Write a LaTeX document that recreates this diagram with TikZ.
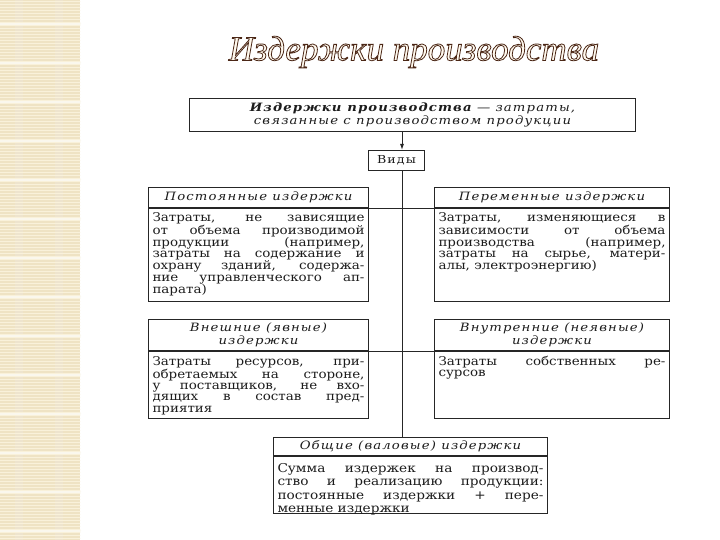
\documentclass[tikz,border=0pt]{standalone}
\usepackage{fontspec}
\setmainfont{DejaVu Serif}
\newfontfamily\bodyfont[FakeStretch=1.12]{DejaVu Serif}
\newfontfamily\headfont[FakeStretch=1.15,LetterSpace=10]{DejaVu Serif}
\newfontfamily\titlefont{Liberation Serif}
\usetikzlibrary{arrows.meta}
\definecolor{ink}{HTML}{1C1C1C}
\definecolor{frame}{HTML}{262626}
\definecolor{parch}{HTML}{EFE3C4}
\definecolor{parchline}{HTML}{F9F1DA}
\definecolor{parchdark}{HTML}{E2D3AE}
\newcommand{\outlinetext}[1]{%
  \special{pdf:literal direct 2 Tr 0.8 w 0.294 0.153 0.086 RG 1 0.976 0.933 rg}#1%
  \special{pdf:literal direct 0 Tr 0 g 0 G}}
\hyphenpenalty=10000
\tolerance=10000
\begin{document}
\begin{tikzpicture}[x=1pt,y=-1pt,line cap=round,
  framed/.style={draw=frame,line width=1pt,inner sep=0pt,text=ink},
  headrow/.style={framed,anchor=north west,align=center,
    font=\headfont\itshape\fontsize{11.5}{12.5}\selectfont},
  bodyrow/.style={framed,anchor=north west,align=justify,inner xsep=4pt,inner ysep=2pt,
    font=\bodyfont\fontsize{12}{11.8}\selectfont},
  titletext/.style={font=\titlefont\itshape\fontsize{35}{38}\selectfont}]
  \useasboundingbox (0,0) rectangle (720,540);
  \fill[white] (0,0) rectangle (720,540);
  \fill[parch] (0,0) rectangle (80,540);
  \fill[parchdark!60] (15,0) rectangle (23,540);
  \fill[parchdark!60] (55,0) rectangle (63,540);
  \foreach \y in {1.5,4.5,...,540}
     \draw[parchline,line width=0.6pt] (0,\y) -- (80,\y);
  \foreach \y in {24,63,...,540}
     \draw[white!70!parch,line width=2pt] (0,\y) -- (80,\y);

  \node[titletext] (title) at (414,52) {\outlinetext{Издержки производства}};

  \node[framed,anchor=north west,minimum width=446pt,minimum height=33pt,align=center,
    font=\headfont\itshape\fontsize{11.5}{12.5}\selectfont] (def) at (189,98)
    {{\bfseries Издержки производства} — затраты,\\связанные с производством продукции};
  \node[framed,anchor=north west,minimum width=56pt,minimum height=20pt,
    font=\headfont\fontsize{11}{12}\selectfont] (vidy) at (368,150) {Виды};
  \coordinate (spine) at (402,0);

  \node[headrow,minimum width=220pt,minimum height=20pt] (fixh) at (148,187) {Постоянные издержки};
  \node[bodyrow,text width=212pt,text height=11pt,text depth=78pt] (fixb) at (fixh.south west)
    {Затраты, не зависящие\linebreak от объема производимой\linebreak продукции (например,\linebreak
     затраты на содержание и\linebreak охрану зданий, содержа-\linebreak ние управленческого ап-\linebreak парата)};
  \node[headrow,minimum width=235pt,minimum height=20pt] (varh) at (434,187) {Переменные издержки};
  \node[bodyrow,text width=227pt,text height=11pt,text depth=78pt] (varb) at (varh.south west)
    {Затраты, изменяющиеся в\linebreak зависимости от объема\linebreak производства (например,\linebreak
     затраты на сырье, матери-\linebreak алы, электроэнергию)};

  \node[headrow,minimum width=220pt,minimum height=31pt] (exth) at (148,319) {Внешние (явные)\\издержки};
  \node[bodyrow,text width=212pt,text height=12pt,text depth=51pt,
    font=\bodyfont\fontsize{12}{11.2}\selectfont] (extb) at (exth.south west)
    {Затраты ресурсов, при-\linebreak обретаемых на стороне,\linebreak у поставщиков, не вхо-\linebreak
     дящих в состав пред-\linebreak приятия};
  \node[headrow,minimum width=235pt,minimum height=31pt] (inth) at (434,319) {Внутренние (неявные)\\издержки};
  \node[bodyrow,text width=227pt,text height=12pt,text depth=51pt,
    font=\bodyfont\fontsize{12}{11.2}\selectfont] (intb) at (inth.south west)
    {Затраты собственных ре-\linebreak сурсов};

  \node[headrow,minimum width=274pt,minimum height=18pt] (toth) at (273,437) {Общие (валовые) издержки};
  \node[bodyrow,text width=266pt,text height=14pt,text depth=39pt,
    font=\bodyfont\fontsize{12.2}{13.3}\selectfont] (totb) at (toth.south west)
    {Сумма издержек на производ-\linebreak ство и реализацию продукции:\linebreak
     постоянные издержки + пере-\linebreak менные издержки};

  \draw[frame,line width=1pt,-{Latex[length=6pt,width=4pt]}] (def.south -| spine) -- (vidy.north -| spine);
  \draw[frame,line width=1pt] (vidy.south -| spine) -- (toth.north -| spine);
  \draw[frame,line width=0.8pt] (fixh.south east) -- (varh.south west);
  \draw[frame,line width=0.8pt] (exth.south east) -- (inth.south west);
\end{tikzpicture}
\end{document}
